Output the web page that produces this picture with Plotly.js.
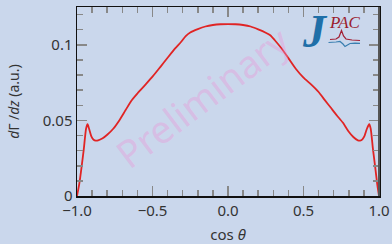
<!DOCTYPE html>
<html><head><meta charset="utf-8">
<script src="https://cdn.plot.ly/plotly-3.0.1.min.js"></script>
<style>html,body{margin:0;padding:0;background:#cad7ec;}#chart{width:392px;height:244px;}</style>
</head><body><div id="chart"></div>
<script>
const cosTheta = [-1.0,-0.985,-0.97,-0.955,-0.94,-0.93,-0.92,-0.905,-0.89,-0.875,-0.86,-0.83,-0.80,-0.76,-0.72,-0.68,-0.64,-0.60,-0.55,-0.50,-0.45,-0.40,-0.35,-0.31,-0.28,-0.25,-0.20,-0.15,-0.10,-0.05,0.0,
  0.05,0.10,0.15,0.20,0.25,0.28,0.31,0.35,0.40,0.45,0.50,0.55,0.60,0.64,0.68,0.72,0.76,0.80,0.83,0.86,0.875,0.89,0.905,0.92,0.935,0.945,0.96,0.975,0.988,1.0];
const dGammaDz = [0,0.008,0.019,0.031,0.0445,0.0475,0.0445,0.0395,0.0372,0.0366,0.0368,0.0382,0.0405,0.0445,0.0500,0.0565,0.0630,0.0678,0.0733,0.0789,0.0851,0.0914,0.0976,0.1020,0.1058,0.1082,0.1104,0.1121,0.1131,0.1136,0.1137,
  0.1136,0.1131,0.1121,0.1102,0.1080,0.1063,0.1030,0.0982,0.0912,0.0840,0.0783,0.0738,0.0688,0.0636,0.0585,0.0534,0.0486,0.0425,0.0390,0.0368,0.0366,0.0375,0.0400,0.0445,0.0475,0.0445,0.031,0.019,0.008,0];
const xTickVals = [-1.0,-0.5,0.0,0.5,1.0];
const yTickVals = [0,0.05,0.1];

const L=77,R=379,T=7,B=196;
const px = x => (x-L)/(R-L);
const py = y => (B-y)/(B-T);
function path(pts){return pts.map((p,i)=>(i?'L':'M')+px(p[0]).toFixed(4)+','+py(p[1]).toFixed(4)).join(' ');}

const redLogo=[[330,39.5],[336,39],[339,37],[341.5,30.5],[343.5,36],[346,39],[352,40],[360,40.5]];
const blueLogo=[[328.5,42.5],[336,42],[340,41.5],[343,44],[345,46.5],[347.5,45],[350,43.5],[355,43.2],[360,43.3]];

const font='"Noto Sans", "Open Sans", sans-serif';
Plotly.newPlot('chart',[{
  x: cosTheta, y: dGammaDz, type:'scatter', mode:'lines',
  line:{color:'#e02424', width:1.8, shape:'spline', smoothing:0.6}, hoverinfo:'skip'
}],{
  width:392, height:244,
  margin:{l:L, r:392-R, t:T, b:244-B},
  paper_bgcolor:'#cad7ec', plot_bgcolor:'#cad7ec',
  showlegend:false,
  font:{family:font, size:15, color:'#333'},
  xaxis:{range:[-1,1], tickvals:xTickVals, tickformat:'.1f', ticks:'inside', ticklen:10, tickcolor:'#888', tickwidth:1.5,
    minor:{dtick:0.1, ticks:'inside', ticklen:6, tickcolor:'#888', tickwidth:1.5},
    showline:true, linecolor:'#111', linewidth:1.5, mirror:'ticks', showgrid:false, zeroline:false,
    tickfont:{size:15, color:'#333'},
    title:{text:'cos <i>θ</i>', font:{size:15, color:'#333'}, standoff:11}},
  yaxis:{range:[0,0.125], tickvals:yTickVals, ticks:'inside', ticklen:10, tickcolor:'#888', tickwidth:1.5,
    minor:{dtick:0.01, ticks:'inside', ticklen:6, tickcolor:'#888', tickwidth:1.5},
    showline:true, linecolor:'#111', linewidth:1.5, mirror:'ticks', showgrid:false, zeroline:false,
    tickfont:{size:15, color:'#333'},
    title:{text:'<i>d</i>Γ /<i>dz</i> (a.u.)', font:{size:14, color:'#333'}, standoff:20}},
  shapes:[
    {type:'line', xref:'paper', yref:'paper', x0:1, x1:1, y0:0, y1:1, line:{color:'#555', width:2}},
    {type:'path', xref:'paper', yref:'paper', path:path(redLogo), line:{color:'#a32035', width:1.2}},
    {type:'path', xref:'paper', yref:'paper', path:path(blueLogo), line:{color:'#3a7fb0', width:1.2}}
  ],
  annotations:[
    {text:'Preliminary', xref:'paper', yref:'paper', x:px(202), y:py(97), xanchor:'center', yanchor:'middle', showarrow:false, textangle:-37,
     font:{family:font, size:38, color:'rgba(236,150,215,0.4)'}},
    {text:'<b><i>J</i></b>', xref:'paper', yref:'paper', x:px(315), y:py(31), xanchor:'center', yanchor:'middle', showarrow:false,
     font:{family:'"Liberation Serif", serif', size:46, color:'#1f6fa8'}},
    {text:'<i>PAC</i>', xref:'paper', yref:'paper', x:px(345), y:py(22), xanchor:'center', yanchor:'middle', showarrow:false,
     font:{family:'"Liberation Serif", serif', size:17, color:'#9b1d2e'}}
  ]
},{staticPlot:true});
</script></body></html>
